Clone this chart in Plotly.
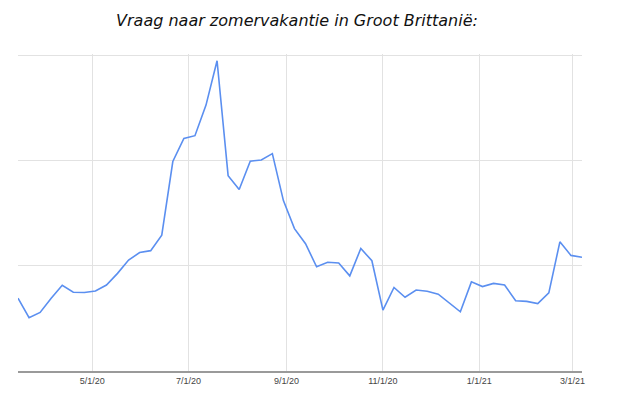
import pandas as pd
import plotly.graph_objects as go

start_week = "2020-03-15"
n_weeks = 52
interest = [23.1, 16.9, 18.6, 23.1, 27.2, 25.0, 24.9, 25.4, 27.3, 31.0,
            35.2, 37.6, 38.2, 43.1, 66.5, 73.8, 74.7, 84.4, 98.5, 62.0,
            57.6, 66.6, 67.0, 69.0, 54.1, 45.2, 40.4, 33.1, 34.5, 34.3,
            30.2, 38.9, 35.0, 19.3, 26.5, 23.4, 25.7, 25.3, 24.4, 21.7,
            18.8, 28.3, 26.8, 27.8, 27.3, 22.3, 22.1, 21.4, 24.8, 41.0,
            36.7, 36.1]
tick_dates = ["2020-05-01", "2020-07-01", "2020-09-01", "2020-11-01", "2021-01-01", "2021-03-01"]
tick_labels = ["5/1/20", "7/1/20", "9/1/20", "11/1/20", "1/1/21", "3/1/21"]
y_grid = [0, 100 / 3, 200 / 3, 100]
title = "Vraag naar zomervakantie in Groot Brittanië:"

dates = pd.date_range(start_week, periods=n_weeks, freq="7D")

fig = go.Figure()
fig.add_trace(go.Scatter(x=dates, y=interest, mode="lines",
                         line=dict(color="#5b8ff0", width=1.6),
                         hoverinfo="x+y"))

W, H = 634, 387
fig.update_layout(
    width=W, height=H,
    margin=dict(l=10, r=60, t=46, b=24),
    paper_bgcolor="white", plot_bgcolor="white",
    showlegend=False,
    title=dict(text="<i>" + title + "</i>", x=289 / W, xanchor="center",
               y=1 - 12 / H, yanchor="middle",
               font=dict(family="DejaVu Sans, sans-serif", size=16, color="#111111")),
    xaxis=dict(range=[dates[0], dates[-1]], tickmode="array",
               tickvals=tick_dates, ticktext=tick_labels,
               showgrid=True, gridcolor="#e2e2e2", gridwidth=1,
               showline=True, linecolor="#9a9a9a", linewidth=1.5,
               ticks="", tickfont=dict(family="Arial, Liberation Sans, sans-serif", size=9, color="#444444"),
               zeroline=False),
    yaxis=dict(range=[0, 100.63], tickmode="array", tickvals=y_grid,
               showticklabels=False, showgrid=True, gridcolor="#e2e2e2",
               gridwidth=1, zeroline=False, showline=False),
)

fig.write_html("out.html")
